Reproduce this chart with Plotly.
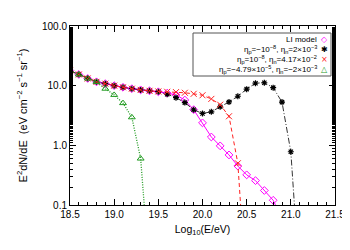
import plotly.graph_objects as go

# ---- data (log10 E in eV, E^2 dN/dE in eV cm^-2 s^-1 sr^-1) ----
x_li = [18.5, 18.6, 18.7, 18.8, 18.9, 19.0, 19.1, 19.2, 19.3, 19.4, 19.5, 19.6, 19.7,
        19.8, 19.9, 20.0, 20.1, 20.2, 20.3, 20.4, 20.5, 20.6, 20.7, 20.8, 20.9]
y_li = [17.8, 15.4, 13.2, 11.6, 10.8, 10.0, 9.4, 8.9, 8.5, 8.2, 7.9, 7.5, 7.0,
        5.75, 3.96, 2.38, 1.38, 0.98, 0.69, 0.45, 0.32, 0.256, 0.175, 0.12, 0.06]

x_a = [18.5, 18.6, 18.7, 18.8, 18.9, 19.0, 19.1, 19.2, 19.3, 19.4, 19.5, 19.6, 19.7,
       19.8, 19.9, 20.0, 20.1, 20.2, 20.3, 20.4, 20.5, 20.6, 20.7, 20.8, 20.9, 21.0, 21.1]
y_a = [17.8, 15.4, 13.2, 11.6, 10.8, 10.0, 9.4, 8.9, 8.5, 8.2, 7.9, 7.2, 6.3,
       5.2, 3.94, 3.42, 3.65, 4.42, 5.33, 6.65, 8.75, 11.0, 11.2, 9.27, 5.3, 0.78, 0.005]

x_b = [18.5, 18.6, 18.7, 18.8, 18.9, 19.0, 19.1, 19.2, 19.3, 19.4, 19.5, 19.6, 19.7,
       19.8, 19.9, 20.0, 20.1, 20.2, 20.3, 20.4, 20.5]
y_b = [17.8, 15.4, 13.2, 11.6, 10.8, 10.0, 9.4, 8.9, 8.5, 8.2, 8.0, 7.9, 7.8,
       7.6, 7.3, 6.9, 6.0, 4.8, 3.07, 0.5, 0.003]

x_c = [18.5, 18.6, 18.7, 18.8, 18.9, 19.0, 19.1, 19.2, 19.3, 19.4]
y_c = [17.8, 15.4, 13.2, 11.5, 8.9, 7.0, 5.1, 2.95, 0.6, 0.007]

legend_labels = [
    "LI model",
    "η<sub>p</sub>=−10<sup>−8</sup>, η<sub>n</sub>=2×10<sup>−3</sup>",
    "η<sub>p</sub>=10<sup>−8</sup>, η<sub>n</sub>=4.17×10<sup>−2</sup>",
    "η<sub>p</sub>=−4.79×10<sup>−5</sup>, η<sub>n</sub>=−2×10<sup>−3</sup>",
]
legend_symbols = ["◇", "✱", "×", "△"]
colors = ["#ff00ff", "#000000", "#ff2020", "#1f9a1f"]

x_ticks = [18.5, 19.0, 19.5, 20.0, 20.5, 21.0, 21.5]
x_ticklabels = ["18.5", "19.0", "19.5", "20.0", "20.5", "21.0", "21.5"]
y_ticks = [0.1, 1, 10, 100]
y_ticklabels = ["0.1", "1.0", "10.0", "100.0"]

FONT = "Liberation Sans, Arial, sans-serif"

fig = go.Figure()
fig.add_trace(go.Scatter(x=x_li, y=y_li, mode="lines+markers",
                         line=dict(color=colors[0], width=1, dash="solid"),
                         marker=dict(symbol="diamond-open", size=6, color=colors[0], line=dict(width=1))))
fig.add_trace(go.Scatter(x=x_a, y=y_a, mode="lines+markers",
                         line=dict(color=colors[1], width=0.8, dash="6px,2px,1px,2px"),
                         marker=dict(symbol="asterisk-open", size=5, color=colors[1], line=dict(width=1.2, color=colors[1]))))
fig.add_trace(go.Scatter(x=x_b, y=y_b, mode="lines+markers",
                         line=dict(color=colors[2], width=1, dash="4px,3px"),
                         marker=dict(symbol="x-thin-open", size=6, color=colors[2], line=dict(width=1, color=colors[2]))))
fig.add_trace(go.Scatter(x=x_c, y=y_c, mode="lines+markers",
                         line=dict(color=colors[3], width=1.3, dash="1px,1.5px"),
                         marker=dict(symbol="triangle-up-open", size=6, color=colors[3], line=dict(width=1))))

# plot area in figure pixels
L, R, T, B = 62, 327, 18, 197
W, H = R - L, B - T
def px(x):
    return (x - L) / W
def py(y):
    return (B - y) / H

fig.add_shape(type="rect", xref="paper", yref="paper",
              x0=px(185), x1=px(323), y0=py(68), y1=py(25),
              line=dict(color="#555555", width=1), fillcolor="white", layer="above")
rows = [31.5, 41.5, 51.5, 61.5]
for lab, sym, col, yy in zip(legend_labels, legend_symbols, colors, rows):
    fig.add_annotation(xref="paper", yref="paper", x=px(311), y=py(yy), text=lab,
                       showarrow=False, xanchor="right", yanchor="middle",
                       font=dict(family=FONT, size=8, color="black"))
    fig.add_annotation(xref="paper", yref="paper", x=px(316), y=py(yy), text=sym,
                       showarrow=False, xanchor="center", yanchor="middle",
                       font=dict(family="DejaVu Sans", size=8, color=col))

axis_common = dict(showline=True, linecolor="black", linewidth=1, mirror="ticks",
                   ticks="inside", tickcolor="black", showgrid=False, zeroline=False,
                   automargin=False,
                   tickfont=dict(family=FONT, size=10, color="black"))
fig.update_xaxes(range=[18.5, 21.5], tickvals=x_ticks, ticktext=x_ticklabels, ticklen=6,
                 minor=dict(ticks="inside", dtick=0.1, ticklen=3, tickcolor="black", showgrid=False),
                 title=dict(text="Log<sub>10</sub>(E/eV)", font=dict(family=FONT, size=10.5, color="black"),
                            standoff=6),
                 **axis_common)
fig.update_yaxes(type="log", range=[-1, 2], tickvals=y_ticks, ticktext=y_ticklabels, ticklen=6,
                 minor=dict(ticks="inside", ticklen=3, tickcolor="black", showgrid=False),
                 title=dict(text="E<sup>2</sup>dN/dE  (eV cm<sup>−2</sup> s<sup>−1</sup> sr<sup>−1</sup>)",
                            font=dict(family=FONT, size=11, color="black"), standoff=12),
                 **axis_common)

fig.update_layout(width=350, height=250,
                  margin=dict(l=L, r=350 - R, t=T, b=250 - B),
                  paper_bgcolor="white", plot_bgcolor="white", showlegend=False,
                  font=dict(family=FONT, size=10, color="black"))

fig.write_html("out.html")
